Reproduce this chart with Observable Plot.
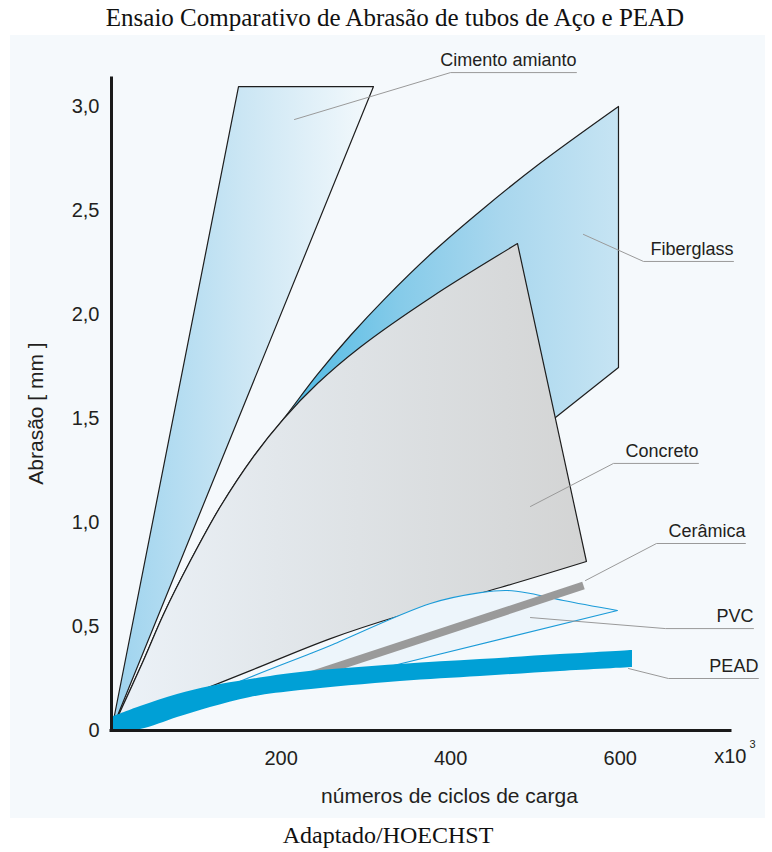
<!DOCTYPE html>
<html><head><meta charset="utf-8">
<script src="https://cdn.jsdelivr.net/npm/d3@7"></script>
<script src="https://cdn.jsdelivr.net/npm/@observablehq/plot@0.6"></script>
<style>
body{margin:0;background:#fff;width:772px;height:852px;position:relative;overflow:hidden}
#title{position:absolute;left:9px;top:0;width:772px;height:36px;line-height:36px;text-align:center;font-family:"Liberation Serif",serif;font-size:25px;color:#111}
#chart{position:absolute;left:10px;top:35px}
#caption{position:absolute;left:2px;top:818px;width:772px;height:34px;line-height:34px;text-align:center;font-family:"Liberation Serif",serif;font-size:24px;color:#111}
</style></head><body>
<div id="title"></div>
<div id="chart"></div>
<div id="caption"></div>
<script>
// ---- texts ----
const titleText = "Ensaio Comparativo de Abrasão de tubos de Aço e PEAD";
const captionText = "Adaptado/HOECHST";
const xTitle = "números de ciclos de carga";
const yTitle = "Abrasão [ mm ]";
const xUnit = "x10";
const xUnitExp = "3";

// ---- ticks ----
const xTicks = [200, 400, 600];
const yTicks = [0, 0.5, 1, 1.5, 2, 2.5, 3];
const yTickLabels = ["0", "0,5", "1,0", "1,5", "2,0", "2,5", "3,0"];

// ---- bands: [ciclos (x10^3), abrasão mm, corner flag] ----
const cimentoPts = [[0, 0, 1], [149.8, 3.096, 1], [309, 3.096, 1]];
const fiberglassPts = [[0, 0, 1], [37.7, 0.337], [61.3, 0.558], [93.2, 0.817], [128.5, 1.077], [167.5, 1.317],
  [202.8, 1.4976], [242.9, 1.712], [281.8, 1.899], [323.1, 2.079], [379.7, 2.303], [438.7, 2.510],
  [503.5, 2.721], [597.9, 3.0, 1], [597.9, 1.745, 1], [523.6, 1.505, 1]];
const concretoPts = [[0, 0, 1], [37.7, 0.337], [61.3, 0.558], [93.2, 0.817], [128.5, 1.077], [167.5, 1.317],
  [202.8, 1.4976], [242.9, 1.668], [293.6, 1.844], [378.5, 2.087], [478.8, 2.341, 1], [560.1, 0.8125, 1],
  [458.7, 0.6875], [340.8, 0.553], [258.3, 0.442], [163.9, 0.288], [105, 0.192], [57.8, 0.115]];
const pvcPts = [[128.5, 0.192, 1], [148.6, 0.231], [234.7, 0.370], [258.3, 0.409], [376.2, 0.611], [435.1, 0.663],
  [467.0, 0.673], [494.1, 0.659], [533.0, 0.625], [596.7, 0.577, 1], [337.3, 0.317, 1], [222.9, 0.202, 1]];
const ceramicaX = [210.8, 556.6];
const ceramicaY = [0.233, 0.697];
const peadX = [0, 34.2, 77.8, 116.7, 163.9, 222.9, 340.8, 435.1, 529.5, 614.4];
const peadTop = [0.0625, 0.115, 0.173, 0.2115, 0.245, 0.279, 0.317, 0.341, 0.365, 0.385];
const peadBottom = [0, 0.005, 0.0625, 0.1106, 0.159, 0.192, 0.236, 0.260, 0.284, 0.303];

// ---- labels with leader lines ----
const labelNames = ["Cimento amianto", "Fiberglass", "Concreto", "Cerâmica", "PVC", "PEAD"];
const labelStartX = [215.8, 556.6, 494.1, 559.0, 494.1, 609.7];
const labelStartY = [2.9375, 2.385, 1.077, 0.721, 0.543, 0.298];
const labelElbowX = [399.8, 627.4, 592.0, 642.7, 653.3, 656.8];
const labelElbowY = [3.163, 2.255, 1.284, 0.899, 0.490, 0.25];
const labelEndX = [548.3, 733.5, 692.2, 747.6, 757.1, 762.9];

// ---- colours ----
const gradients = [
  ["gCimento", [[0, "#9dd3ee"], [0.5, "#cbe6f4"], [1, "#f4f9fc"]]],
  ["gFiber", [[0, "#1aa3dc"], [0.35, "#4fbae4"], [0.57, "#86cbe9"], [0.77, "#a9d7ee"], [1, "#c6e4f3"]]],
  ["gConcreto", [[0, "#ecf2f8"], [0.35, "#e2e7eb"], [1, "#d3d4d4"]]]
];

document.getElementById("title").textContent = titleText;
document.getElementById("caption").textContent = captionText;

function outline(pts) {
  const out = [];
  for (const [x, y, c] of pts) { out.push({x, y}); if (c) out.push({x, y}); }
  const [x0, y0, c0] = pts[0];
  out.push({x: x0, y: y0}); if (c0) out.push({x: x0, y: y0});
  return out;
}
const ceramica = ceramicaX.map((x, i) => ({x, y: ceramicaY[i]}));
const pead = peadX.map((x, i) => ({x, top: peadTop[i], bottom: peadBottom[i]}));
const leaders = labelNames.flatMap((name, i) => [
  {name, x: labelStartX[i], y: labelStartY[i]},
  {name, x: labelElbowX[i], y: labelElbowY[i]},
  {name, x: labelEndX[i], y: labelElbowY[i]}
]);
const labels = labelNames.map((name, i) => ({name, x: labelEndX[i], y: labelElbowY[i]}));

const defs = () => {
  const d = d3.create("svg:defs");
  for (const [id, stops] of gradients) {
    const g = d.append("linearGradient").attr("id", id).attr("x1", 0).attr("y1", 0).attr("x2", 1).attr("y2", 0);
    for (const [o, c] of stops) g.append("stop").attr("offset", o).attr("stop-color", c);
  }
  return d.node();
};

const shapeStroke = "#1e1e1e";
const chart = Plot.plot({
  width: 755, height: 783,
  marginLeft: 101, marginRight: 35, marginTop: 43, marginBottom: 88,
  x: {domain: [0, 730], label: null},
  y: {domain: [0, 3.1346], label: null},
  style: {background: "#f5f9fc", fontFamily: "'Liberation Sans', Arial, sans-serif", color: "#231f20"},
  marks: [
    defs,
    Plot.line(outline(cimentoPts), {x: "x", y: "y", fill: "url(#gCimento)", stroke: shapeStroke, strokeWidth: 1.2, curve: "linear"}),
    Plot.line(outline(fiberglassPts), {x: "x", y: "y", fill: "url(#gFiber)", stroke: shapeStroke, strokeWidth: 1.2, curve: "catmull-rom"}),
    Plot.line(outline(concretoPts), {x: "x", y: "y", fill: "url(#gConcreto)", stroke: shapeStroke, strokeWidth: 1.2, curve: "catmull-rom"}),
    Plot.line(outline(pvcPts), {x: "x", y: "y", fill: "#edf5fb", stroke: "#1b9bd8", strokeWidth: 1.1, curve: "catmull-rom"}),
    Plot.line(ceramica, {x: "x", y: "y", stroke: "#9a9a9a", strokeWidth: 8, strokeLinecap: "butt"}),
    Plot.areaY(pead, {x: "x", y1: "bottom", y2: "top", fill: "#00a0d6", curve: "catmull-rom"}),
    Plot.ruleY([0], {stroke: "#1a1a1a", strokeWidth: 3, strokeLinecap: "square"}),
    Plot.ruleX([0], {stroke: "#1a1a1a", strokeWidth: 3, strokeLinecap: "square"}),
    Plot.axisX({ticks: xTicks, tickSize: 0, tickPadding: 20, fontSize: 20, tickFormat: d => String(d)}),
    Plot.axisY({ticks: yTicks, tickSize: 0, tickPadding: 12, fontSize: 20, tickFormat: d => yTickLabels[yTicks.indexOf(d)]}),
    Plot.line(leaders, {x: "x", y: "y", z: "name", stroke: "#9a9a9a", strokeWidth: 1}),
    Plot.text(labels, {x: "x", y: "y", text: "name", textAnchor: "end", dy: -12, fontSize: 18}),
    Plot.text([xUnit], {frameAnchor: "bottom-right", text: d => d, textAnchor: "end", lineAnchor: "middle", dx: 16, dy: 26, fontSize: 20}),
    Plot.text([xUnitExp], {frameAnchor: "bottom-right", text: d => d, textAnchor: "start", lineAnchor: "middle", dx: 19, dy: 14, fontSize: 11}),
    Plot.text([xTitle], {frameAnchor: "bottom", text: d => d, textAnchor: "middle", lineAnchor: "middle", dx: 28.5, dy: 66, fontSize: 21}),
    Plot.text([yTitle], {frameAnchor: "left", text: d => d, textAnchor: "middle", lineAnchor: "middle", rotate: -90, dx: -75, dy: 9, fontSize: 21})
  ]
});
document.getElementById("chart").appendChild(chart);
</script>
</body></html>
